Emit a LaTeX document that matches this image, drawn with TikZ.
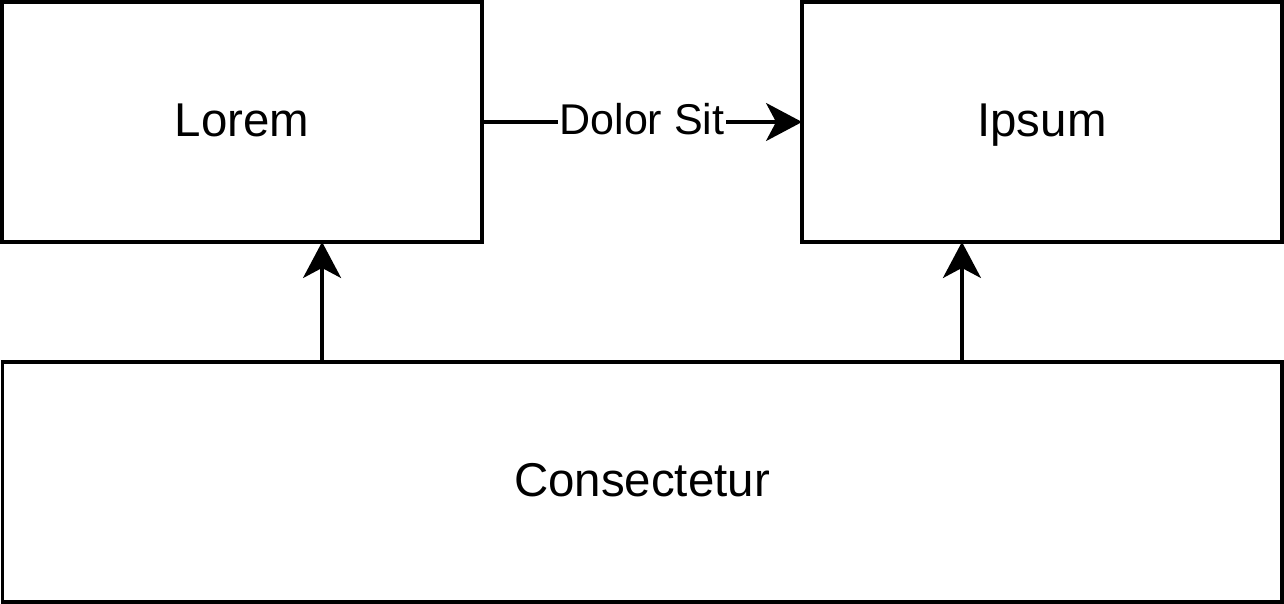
\documentclass[tikz,border=0pt]{standalone}
\usepackage{fontspec}
\setmainfont{Liberation Sans}
\usetikzlibrary{arrows.meta, positioning, calc}

\begin{document}
\begin{tikzpicture}[
    x=0.02cm, y=-0.02cm,
    block/.style={rectangle, draw, line width=0.065cm, minimum width=9.6cm, minimum height=4.8cm, outer sep=0pt, align=center, text height=0.8cm, text depth=0.2cm, font=\fontsize{27}{32}\selectfont},
    arrow/.style={-{Stealth[length=0.72cm, width=0.76cm, inset=0.2cm]}, line width=0.065cm}
]
    \useasboundingbox (0,0) rectangle (1284,604);
    \node[block] (lorem) at (242,122) {Lorem};
    \node[block] (ipsum) at (1042,122) {Ipsum};
    \node[block, minimum width=25.6cm] (cons) at (642,482) {Consectetur};

    \draw[arrow] (lorem) -- node[fill=white, inner sep=1pt, text height=0.7cm, text depth=0.18cm, font=\fontsize{24.5}{29}\selectfont] {Dolor Sit} (ipsum);
    \draw[arrow] ([xshift=-6.4cm]cons.north) -- ([xshift=-6.4cm]cons.north |- lorem.south);
    \draw[arrow] ([xshift=6.4cm]cons.north) -- ([xshift=6.4cm]cons.north |- ipsum.south);
\end{tikzpicture}
\end{document}
